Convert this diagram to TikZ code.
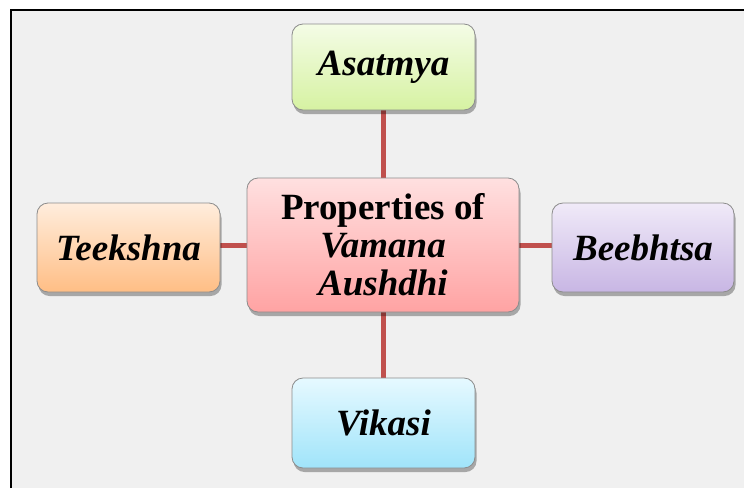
\documentclass[tikz,border=0pt]{standalone}
\usepackage{fontspec}
\setmainfont{Liberation Serif}
\usetikzlibrary{shadows}
\definecolor{bgc}{HTML}{F0F0F0}
\definecolor{linkc}{HTML}{C0504D}
\definecolor{edgec}{HTML}{8C8C8C}
\definecolor{gTop}{HTML}{F4FCE6}
\definecolor{gBot}{HTML}{D6F2A2}
\definecolor{rTop}{HTML}{FFE0E0}
\definecolor{rBot}{HTML}{FFA3A3}
\definecolor{oTop}{HTML}{FFEDDD}
\definecolor{oBot}{HTML}{FFBE85}
\definecolor{pTop}{HTML}{F0EAF8}
\definecolor{pBot}{HTML}{C8B6E4}
\definecolor{bTop}{HTML}{E6F9FF}
\definecolor{bBot}{HTML}{A0E4FA}
\pgfdeclarelayer{bglayer}
\pgfdeclarelayer{linklayer}
\pgfsetlayers{bglayer,linklayer,main}
\tikzset{
  box/.style={draw=edgec, line width=0.8pt, rounded corners=11pt, inner sep=2pt,
    align=center, font=\fontsize{37}{38}\selectfont\bfseries\itshape,
    drop shadow={shadow xshift=1.5pt, shadow yshift=-4pt, fill=black, opacity=0.3}},
  link/.style={draw=linkc, line width=5pt},
}
\begin{document}
\begin{tikzpicture}[x=1pt,y=-1pt]
\useasboundingbox (0,0) rectangle (744,488);
\begin{pgfonlayer}{bglayer}
\fill[bgc] (11,10) rectangle (744,488);
\draw[line width=2pt] (11,488) -- (11,10) -- (744,10);
\end{pgfonlayer}
% nodes
\node[box, minimum width=272pt, minimum height=134pt,
  top color=rTop, bottom color=rBot] (c) at (383,245)
  {{\upshape Properties of}\\ Vamana\\ Aushdhi};
\node[box, minimum width=183pt, minimum height=86pt,
  top color=gTop, bottom color=gBot] (a) at (383.5,67) {Asatmya};
\node[box, minimum width=183pt, minimum height=89pt,
  top color=oTop, bottom color=oBot] (t) at (128.5,247.5) {Teekshna};
\node[box, minimum width=182pt, minimum height=89pt,
  top color=pTop, bottom color=pBot] (b) at (643,247.5) {Beebhtsa};
\node[box, minimum width=183pt, minimum height=90pt,
  top color=bTop, bottom color=bBot] (v) at (383.5,423) {Vikasi};
% connectors
\begin{pgfonlayer}{linklayer}
\draw[link] (c.north) -- (c.north |- a.south);
\draw[link] (c.south) -- (c.south |- v.north);
\draw[link] (c.west) -- (c.west -| t.east);
\draw[link] (c.east) -- (c.east -| b.west);
\end{pgfonlayer}
\end{tikzpicture}
\end{document}
